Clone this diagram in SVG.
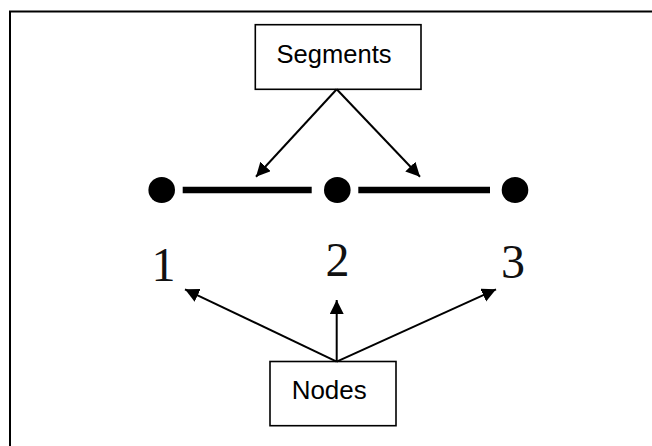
<svg xmlns="http://www.w3.org/2000/svg" width="652" height="446" viewBox="0 0 652 446">
  <style>
    .box { fill: #fff; stroke: #000; stroke-width: 1.6; }
    .label { font-family: "Liberation Sans", Arial, sans-serif; font-size: 25px; fill: #000; text-anchor: middle; }
    .num { font-family: "Liberation Serif", "Times New Roman", serif; font-size: 48px; fill: #111; text-anchor: middle; }
    .dot { fill: #000; }
    .bar { stroke: #000; stroke-width: 6.5; }
    .arrow { stroke: #000; stroke-width: 2; fill: none; marker-end: url(#head); }
  </style>
  <defs>
    <marker id="head" markerUnits="userSpaceOnUse" markerWidth="15" markerHeight="15" refX="14" refY="7" orient="auto">
      <path d="M0,0 L14,7 L0,14 z" fill="#000"/>
    </marker>
  </defs>

  <rect width="652" height="446" fill="#fff"/>
  <!-- outer frame (open on the right and bottom) -->
  <path d="M10,446 V11.5 H652" fill="none" stroke="#000" stroke-width="2"/>

  <!-- element segments between the mesh points -->
  <g id="segment-bars">
    <line class="bar" x1="182.7" y1="190" x2="311.7" y2="190"/>
    <line class="bar" x1="358.3" y1="190" x2="490" y2="190"/>
  </g>

  <g id="node-1">
    <ellipse class="dot" cx="161.7" cy="190" rx="13.3" ry="13"/>
    <text class="num" x="163.5" y="280.5">1</text>
  </g>
  <g id="node-2">
    <ellipse class="dot" cx="337.3" cy="190" rx="13.3" ry="13"/>
    <text class="num" x="337.5" y="276">2</text>
  </g>
  <g id="node-3">
    <ellipse class="dot" cx="515" cy="190" rx="13.3" ry="13"/>
    <text class="num" x="513" y="277.5">3</text>
  </g>

  <g id="segments-label">
    <rect class="box" x="255.3" y="24.7" width="165.7" height="64.6"/>
    <text class="label" x="334" y="62.7" textLength="115" lengthAdjust="spacingAndGlyphs">Segments</text>
  </g>

  <g id="nodes-label">
    <rect class="box" x="270" y="361.5" width="126" height="64.2"/>
    <text class="label" x="329.2" y="399.3" textLength="75" lengthAdjust="spacingAndGlyphs">Nodes</text>
  </g>

  <g id="connectors">
    <line class="arrow" x1="336.7" y1="89.3" x2="256" y2="176.7"/>
    <line class="arrow" x1="336.7" y1="89.3" x2="420" y2="176.7"/>
    <line class="arrow" x1="336.7" y1="361.7" x2="185" y2="289.3"/>
    <line class="arrow" x1="336.7" y1="361.7" x2="336.7" y2="300"/>
    <line class="arrow" x1="336.7" y1="361.7" x2="496" y2="289.3"/>
  </g>
</svg>
